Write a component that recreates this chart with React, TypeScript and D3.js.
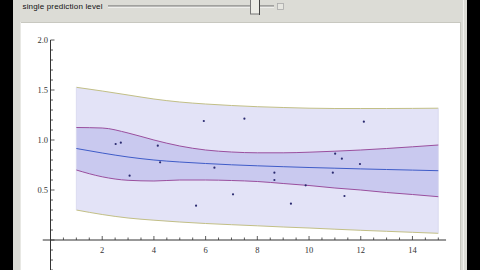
import React from "react";
import * as d3 from "d3";

const bandX = [1, 2, 3, 4, 5, 6, 7, 8, 9, 10, 11, 12, 13, 14, 15];
const fitLine = [0.915, 0.87, 0.83, 0.8, 0.78, 0.765, 0.752, 0.742, 0.733, 0.725, 0.718, 0.711, 0.705, 0.699, 0.693];
const innerUpper = [1.125, 1.12, 1.07, 1.0, 0.94, 0.9, 0.88, 0.872, 0.872, 0.878, 0.888, 0.9, 0.915, 0.932, 0.95];
const innerLower = [0.7, 0.632, 0.597, 0.59, 0.6, 0.6, 0.595, 0.585, 0.565, 0.545, 0.52, 0.5, 0.475, 0.455, 0.433];
const outerUpper = [1.527, 1.49, 1.45, 1.41, 1.38, 1.36, 1.345, 1.333, 1.325, 1.318, 1.315, 1.315, 1.315, 1.316, 1.318];
const outerLower = [0.3, 0.255, 0.22, 0.198, 0.18, 0.165, 0.153, 0.142, 0.13, 0.12, 0.108, 0.097, 0.087, 0.077, 0.067];

const pointX = [2.52, 2.72, 3.06, 4.15, 4.24, 5.93, 5.63, 6.34, 7.06, 7.5, 8.66, 8.66, 9.3, 9.87, 10.92, 11.01, 11.27, 11.37, 11.97, 12.12];
const pointY = [0.96, 0.973, 0.643, 0.943, 0.777, 1.19, 0.343, 0.723, 0.457, 1.213, 0.673, 0.6, 0.363, 0.547, 0.673, 0.863, 0.813, 0.44, 0.76, 1.183];

const xLabels = [2, 4, 6, 8, 10, 12, 14];
const yLabels = [0.5, 1.0, 1.5, 2.0];
const sliderLabel = "single prediction level";

export default function App() {
  const x = d3.scaleLinear().domain([0, 15]).range([50.5, 438.3]);
  const y = d3.scaleLinear().domain([0, 2]).range([240, 40]);

  const band = (lo: number[], hi: number[]) =>
    d3
      .area<number>()
      .x((_, i) => x(bandX[i]))
      .y0((_, i) => y(lo[i]))
      .y1((_, i) => y(hi[i]))
      .curve(d3.curveMonotoneX)(bandX) || "";
  const line = (vals: number[]) =>
    d3
      .line<number>()
      .x((_, i) => x(bandX[i]))
      .y((_, i) => y(vals[i]))
      .curve(d3.curveMonotoneX)(bandX) || "";

  const xMinor = d3.range(1, 31).map((k) => k * 0.5);
  const yMinor = d3.range(-3, 21).map((k) => k * 0.1);

  return (
    <svg
      width={480}
      height={270}
      style={{ position: "absolute", left: 0, top: 0 }}
      xmlns="http://www.w3.org/2000/svg"
    >
      <rect x={0} y={0} width={480} height={270} fill="#000" />
      <rect x={13} y={0} width={454} height={270} fill="#dcdcd6" />
      {/* slider */}
      <text x={22.5} y={9} fontFamily="Liberation Sans, Arial" fontSize={8} fill="#111" textLength={80}>
        {sliderLabel}
      </text>
      <line x1={108} x2={274} y1={6} y2={6} stroke="#666" strokeWidth={1.2} />
      <line x1={108} x2={274} y1={7.2} y2={7.2} stroke="#fff" strokeWidth={0.8} />
      <rect x={250.5} y={-1} width={9} height={15} fill="#ecece6" stroke="#777" strokeWidth={1} />
      <line x1={259.5} x2={259.5} y1={0} y2={15} stroke="#444" />
      <rect x={277.5} y={3.5} width={6} height={6} fill="#e6e6e0" stroke="#aaa" strokeWidth={0.8} />
      {/* panel */}
      <rect x={20} y={22} width={440} height={260} fill="#ffffff" />
      <line x1={20} x2={460} y1={22.5} y2={22.5} stroke="#c8c8c0" />
      <line x1={20.5} x2={20.5} y1={22} y2={270} stroke="#e8e8e4" />
      <line x1={460.5} x2={460.5} y1={22} y2={270} stroke="#c8c8c0" />
      <line x1={463.5} x2={463.5} y1={0} y2={270} stroke="#f2f2ee" />

      {/* bands */}
      <path d={band(outerLower, outerUpper)} fill="#e3e3f7" />
      <path d={band(innerLower, innerUpper)} fill="#c9c9ef" />
      <path d={line(outerUpper)} fill="none" stroke="#c2bf86" strokeWidth={1} />
      <path d={line(outerLower)} fill="none" stroke="#c2bf86" strokeWidth={1} />
      <line x1={x(1)} x2={x(1)} y1={y(outerLower[0])} y2={y(outerUpper[0])} stroke="#d8d8ee" strokeWidth={0.8} />
      <line x1={x(15)} x2={x(15)} y1={y(outerLower[14])} y2={y(outerUpper[14])} stroke="#d8d8ee" strokeWidth={0.8} />
      <path d={line(innerUpper)} fill="none" stroke="#9a4f9e" strokeWidth={1} />
      <path d={line(innerLower)} fill="none" stroke="#9a4f9e" strokeWidth={1} />
      <path d={line(fitLine)} fill="none" stroke="#3f5cc8" strokeWidth={1} />

      {/* points */}
      {pointX.map((px, i) => (
        <circle key={i} cx={x(px)} cy={y(pointY[i])} r={1.1} fill="#2a2a70" />
      ))}

      {/* axes */}
      <line x1={x(-0.3)} x2={x(15.3)} y1={y(0)} y2={y(0)} stroke="#333" strokeWidth={1} />
      <line x1={x(0)} x2={x(0)} y1={y(2)} y2={270} stroke="#333" strokeWidth={1} />
      {xMinor.map((v) => {
        const major = Math.abs(v - Math.round(v)) < 1e-6 && Math.round(v) % 2 === 0;
        return (
          <line key={"xt" + v} x1={x(v)} x2={x(v)} y1={y(0)} y2={y(0) - (major ? 4 : 2.5)} stroke="#333" strokeWidth={0.8} />
        );
      })}
      {yMinor.map((v) => {
        const r = Math.round(v * 10);
        const major = r % 5 === 0;
        return (
          <line key={"yt" + r} x1={x(0)} x2={x(0) + (major ? 4 : 2.5)} y1={y(v)} y2={y(v)} stroke="#333" strokeWidth={0.8} />
        );
      })}
      {xLabels.map((v) => (
        <text key={"xl" + v} x={x(v)} y={253} textAnchor="middle" fontFamily="Liberation Serif, Times New Roman" fontSize={8.5} fill="#333">
          {v}
        </text>
      ))}
      {yLabels.map((v) => (
        <text key={"yl" + v} x={x(0) - 2.5} y={y(v) + 3} textAnchor="end" fontFamily="Liberation Serif, Times New Roman" fontSize={8.5} fill="#333">
          {v.toFixed(1)}
        </text>
      ))}
    </svg>
  );
}
